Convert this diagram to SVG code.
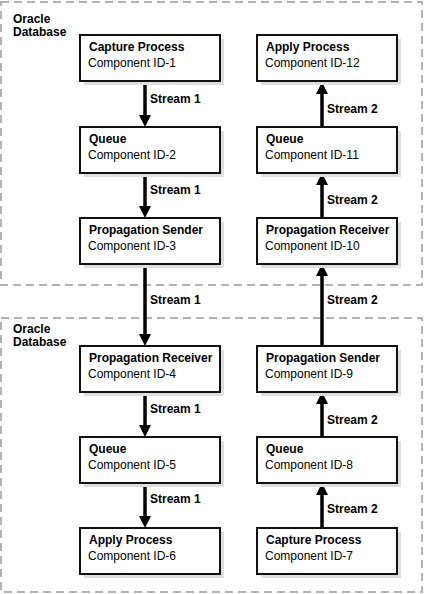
<svg xmlns="http://www.w3.org/2000/svg" width="425" height="594" viewBox="0 0 425 594">
<defs>
<style>
.db{fill:none;stroke:#b3b3b3;stroke-width:2;stroke-dasharray:8 5}
.shadow{fill:#dedede}
.box{fill:#fff;stroke:#111;stroke-width:2}
.t{font-family:"Liberation Sans",Arial,sans-serif;font-size:12px;font-weight:bold;fill:#000}
.s{font-family:"Liberation Sans",Arial,sans-serif;font-size:12px;fill:#000}
.c{stroke:#000;stroke-width:3.5;fill:none;marker-end:url(#ah)}
</style>
<marker id="ah" markerUnits="userSpaceOnUse" markerWidth="12" markerHeight="12" refX="4" refY="6" orient="auto"><path d="M0,0 L12,6 L0,12 Z" fill="#000"/></marker>
</defs>
<rect fill="#fff" x="0" y="0" width="425" height="594"/>
<g id="db1"><rect class="db" x="1" y="2" width="421" height="283"/><text class="t" x="13" y="23">Oracle</text><text class="t" x="13" y="36">Database</text></g>
<g id="db2"><rect class="db" x="1" y="318" width="421" height="274"/><text class="t" x="13" y="333">Oracle</text><text class="t" x="13" y="346">Database</text></g>
<g id="connectors">
<line class="c" x1="145" y1="82" x2="145" y2="119"/>
<line class="c" x1="145" y1="173" x2="145" y2="210"/>
<line class="c" x1="145" y1="264" x2="145" y2="338"/>
<line class="c" x1="145" y1="392" x2="145" y2="429"/>
<line class="c" x1="145" y1="483" x2="145" y2="520"/>
<line class="c" x1="322" y1="127" x2="322" y2="90"/>
<line class="c" x1="322" y1="218" x2="322" y2="181"/>
<line class="c" x1="322" y1="346" x2="322" y2="272"/>
<line class="c" x1="322" y1="437" x2="322" y2="400"/>
<line class="c" x1="322" y1="528" x2="322" y2="491"/>
<text class="t" x="150" y="103">Stream 1</text>
<text class="t" x="150" y="194">Stream 1</text>
<text class="t" x="150" y="304">Stream 1</text>
<text class="t" x="150" y="413">Stream 1</text>
<text class="t" x="150" y="503">Stream 1</text>
<text class="t" x="327" y="113">Stream 2</text>
<text class="t" x="327" y="204">Stream 2</text>
<text class="t" x="327" y="304">Stream 2</text>
<text class="t" x="327" y="424">Stream 2</text>
<text class="t" x="327" y="513">Stream 2</text>
</g>
<g id="n1"><rect class="shadow" x="84" y="39" width="140" height="46"/><rect class="box" x="80" y="35" width="140" height="46"/><text class="t" x="89" y="51">Capture Process</text><text class="s" x="88" y="67">Component ID-1</text></g>
<g id="n2"><rect class="shadow" x="84" y="131" width="140" height="46"/><rect class="box" x="80" y="127" width="140" height="46"/><text class="t" x="89" y="143">Queue</text><text class="s" x="88" y="159">Component ID-2</text></g>
<g id="n3"><rect class="shadow" x="84" y="222" width="140" height="46"/><rect class="box" x="80" y="218" width="140" height="46"/><text class="t" x="89" y="234">Propagation Sender</text><text class="s" x="88" y="250">Component ID-3</text></g>
<g id="n4"><rect class="shadow" x="84" y="350" width="140" height="46"/><rect class="box" x="80" y="346" width="140" height="46"/><text class="t" x="89" y="362">Propagation Receiver</text><text class="s" x="88" y="378">Component ID-4</text></g>
<g id="n5"><rect class="shadow" x="84" y="441" width="140" height="46"/><rect class="box" x="80" y="437" width="140" height="46"/><text class="t" x="89" y="453">Queue</text><text class="s" x="88" y="469">Component ID-5</text></g>
<g id="n6"><rect class="shadow" x="84" y="532" width="140" height="46"/><rect class="box" x="80" y="528" width="140" height="46"/><text class="t" x="89" y="544">Apply Process</text><text class="s" x="88" y="560">Component ID-6</text></g>
<g id="n7"><rect class="shadow" x="261" y="532" width="140" height="46"/><rect class="box" x="257" y="528" width="140" height="46"/><text class="t" x="266" y="544">Capture Process</text><text class="s" x="265" y="560">Component ID-7</text></g>
<g id="n8"><rect class="shadow" x="261" y="441" width="140" height="46"/><rect class="box" x="257" y="437" width="140" height="46"/><text class="t" x="266" y="453">Queue</text><text class="s" x="265" y="469">Component ID-8</text></g>
<g id="n9"><rect class="shadow" x="261" y="350" width="140" height="46"/><rect class="box" x="257" y="346" width="140" height="46"/><text class="t" x="266" y="362">Propagation Sender</text><text class="s" x="265" y="378">Component ID-9</text></g>
<g id="n10"><rect class="shadow" x="261" y="222" width="140" height="46"/><rect class="box" x="257" y="218" width="140" height="46"/><text class="t" x="266" y="234">Propagation Receiver</text><text class="s" x="265" y="250">Component ID-10</text></g>
<g id="n11"><rect class="shadow" x="261" y="131" width="140" height="46"/><rect class="box" x="257" y="127" width="140" height="46"/><text class="t" x="266" y="143">Queue</text><text class="s" x="265" y="159">Component ID-11</text></g>
<g id="n12"><rect class="shadow" x="261" y="39" width="140" height="46"/><rect class="box" x="257" y="35" width="140" height="46"/><text class="t" x="266" y="51">Apply Process</text><text class="s" x="265" y="67">Component ID-12</text></g>
</svg>
